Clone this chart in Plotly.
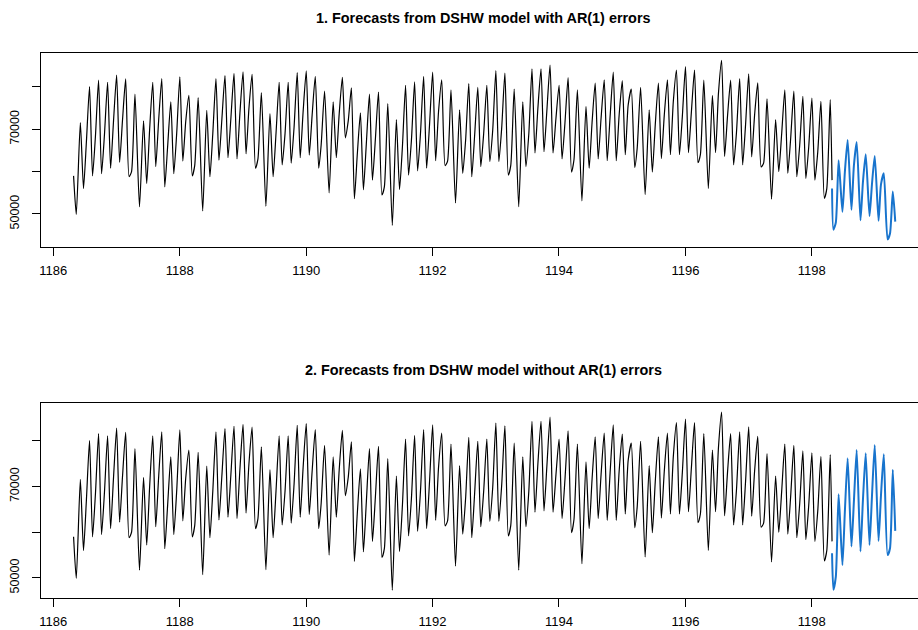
import plotly.graph_objects as go

# ---------------- data ----------------
series_start = 1186.32          # time (weeks) of first observation
days_in_week = 7
history_days = 84

history_start_value = 59000
history_end_value = 58000

# day 0 is a Sunday
day_names = ["Sun", "Mon", "Tue", "Wed", "Thu", "Fri", "Sat"]

# daily night trough, mid-morning notch (None = none visible), daily peak
daily_trough = [
    49900, 56000, 59000, 59500, 60800, 62200, 58800,
    51700, 57200, 61200, 56400, 59500, 62500, 59000,
    50700, 58800, 62700, 63300, 63000, 64200, 60800,
    51800, 58800, 61600, 62000, 63300, 63900, 60800,
    55000, 63300, 68000, 53600, 55700, 58000, 54500,
    47300, 55800, 59200, 60200, 60800, 62600, 61400,
    52600, 59600, 58800, 61200, 62400, 62400, 59200,
    51700, 61200, 64400, 64700, 64400, 63000, 59900,
    53100, 60800, 63000, 62600, 62600, 64000, 61000,
    54600, 59900, 63100, 64000, 64000, 64500, 62100,
    56000, 64500, 63600, 61600, 61600, 63500, 61100,
    53500, 60000, 59600, 58800, 58400, 58000, 53700,
]
daily_mid = [
    None, 67000, 68300, 68700, 71800, 72200, 60000,
    None, 69800, 72000, 66000, 69000, 71800, 61500,
    None, 69000, 72200, 72500, 73700, 74900, 63000,
    None, 69000, 69000, 70500, 74100, 73300, 66300,
    None, 73700, 72000, 64000, 66500, 67500, 56400,
    None, 65900, 67500, 69000, 71000, 74200, 62500,
    None, 67500, 68600, 69000, 69800, 70500, 61500,
    None, 69000, 74900, 74500, 72500, 71500, 62800,
    None, 71500, 72600, 73000, 73300, 75700, 65500,
    None, 71000, 73300, 76500, 73000, 74000, 64000,
    None, 78500, 73000, 69400, 71000, 73300, 62000,
    None, 68900, 67900, 66300, 65900, 64700, 56000,
]
daily_peak = [
    71600, 80100, 81600, 81100, 82800, 81900, 78300,
    72000, 81100, 82000, 76500, 82400, 78000, 77500,
    74500, 82000, 82700, 83200, 83600, 83000, 78700,
    73700, 81100, 81100, 83400, 83800, 82500, 79000,
    76500, 82300, 79800, 73900, 78300, 78800, 76100,
    72300, 80400, 81200, 82500, 83500, 81700, 79300,
    74600, 80800, 79900, 80400, 83900, 83300, 79500,
    76500, 84300, 84300, 85200, 80400, 82200, 79300,
    75400, 80900, 81700, 83500, 81500, 79500, 79900,
    74600, 80900, 81700, 84000, 84800, 84000, 81600,
    78000, 86300, 81600, 82000, 83100, 81000, 77200,
    72300, 79300, 79000, 77800, 77400, 76600, 77000,
]

# one-week forecasts (day 0 = Sunday)
fc1_start_value = 56000
fc1_trough = [46300, 50500, 51000, 48500, 49500, 48400, 44000]
fc1_mid = [48000, 59900, 61400, 57500, 57000, 57000, 45400]
fc1_peak = [62700, 67500, 67000, 64100, 63700, 59600, 55300]
fc1_end_value = 48200

fc2_start_value = 55400
fc2_trough = [47400, 52800, 56900, 55800, 57200, 58100, 55000]
fc2_mid = [50300, 64500, 66700, 67000, 67800, 68100, 56500]
fc2_peak = [68300, 76200, 78000, 77300, 79100, 77100, 73700]
fc2_end_value = 60300

x_tick_values = [1186, 1188, 1190, 1192, 1194, 1196, 1198]
y_tick_values = [50000, 60000, 70000, 80000]
y_tick_text = ["50000", "", "70000", ""]

titles = ["1. Forecasts from DSHW model with AR(1) errors",
          "2. Forecasts from DSHW model without AR(1) errors"]

# time-of-day positions (fraction of a day) of the three daily readings
hour_fraction = {
    "Sun": (0.30, 0.52, 0.75),
    "Sat": (0.15, 0.42, 0.80),
    "weekday": (0.10, 0.42, 0.77),
    "forecast": (0.15, 0.42, 0.73),
}


def t_of(day, frac):
    return series_start + (day + frac) / days_in_week


# ---------------- build series ----------------
hx, hy = [t_of(0, 0.0)], [history_start_value]
for d in range(history_days):
    name = day_names[d % 7]
    fr = hour_fraction[name] if name in ("Sun", "Sat") else hour_fraction["weekday"]
    for f, v in zip(fr, (daily_trough[d], daily_mid[d], daily_peak[d])):
        if v is not None:
            hx.append(t_of(d, f))
            hy.append(v)
hx.append(t_of(history_days, 0.0))
hy.append(history_end_value)


def forecast_series(start_v, tr, mi, pk, end_v):
    fx, fy = [t_of(history_days, 0.0)], [start_v]
    for i in range(len(tr)):
        fr = hour_fraction["forecast"]
        for f, v in zip(fr, (tr[i], mi[i], pk[i])):
            fx.append(t_of(history_days + i, f))
            fy.append(v)
    fx.append(t_of(history_days + len(tr), 0.0))
    fy.append(end_v)
    return fx, fy


f1x, f1y = forecast_series(fc1_start_value, fc1_trough, fc1_mid, fc1_peak, fc1_end_value)
f2x, f2y = forecast_series(fc2_start_value, fc2_trough, fc2_mid, fc2_peak, fc2_end_value)

# ---------------- figure ----------------
W, H = 918, 630
FONT = "Liberation Sans, Arial, Helvetica, sans-serif"
BLUE = "#1874CD"

fig = go.Figure()
line_shape = dict(shape="spline", smoothing=0.6)
fig.add_trace(go.Scatter(x=hx, y=hy, mode="lines", xaxis="x", yaxis="y",
                         line=dict(color="black", width=1.2, **line_shape)))
fig.add_trace(go.Scatter(x=f1x, y=f1y, mode="lines", xaxis="x", yaxis="y",
                         line=dict(color=BLUE, width=2, **line_shape)))
fig.add_trace(go.Scatter(x=hx, y=hy, mode="lines", xaxis="x2", yaxis="y2",
                         line=dict(color="black", width=1.2, **line_shape)))
fig.add_trace(go.Scatter(x=f2x, y=f2y, mode="lines", xaxis="x2", yaxis="y2",
                         line=dict(color=BLUE, width=2, **line_shape)))

left = 40.7 / W
xcommon = dict(range=[1185.80, 1199.68], tickvals=x_tick_values,
               ticks="outside", ticklen=8, tickwidth=1, tickcolor="black",
               showline=True, linecolor="black", linewidth=1, mirror=True,
               showgrid=False, zeroline=False, automargin=False,
               tickfont=dict(family=FONT, size=13, color="black"),
               ticklabelstandoff=3, domain=[left, 1.0])
ycommon = dict(tickvals=y_tick_values, ticktext=y_tick_text, tickangle=-90,
               ticks="outside", ticklen=8, tickwidth=1, tickcolor="black",
               showline=True, linecolor="black", linewidth=1, mirror=False,
               showgrid=False, zeroline=False, automargin=False,
               tickfont=dict(family=FONT, size=12.5, color="black"),
               ticklabelstandoff=8)

fig.update_layout(
    width=W, height=H, showlegend=False,
    paper_bgcolor="white", plot_bgcolor="white",
    margin=dict(l=0, r=0, t=0, b=0),
    xaxis=dict(anchor="y", **xcommon),
    xaxis2=dict(anchor="y2", **xcommon),
    yaxis=dict(anchor="x", range=[42200, 88100],
               domain=[(H - 247) / H, (H - 52.7) / H], **ycommon),
    yaxis2=dict(anchor="x2", range=[45600, 88300],
                domain=[(H - 598) / H, (H - 403) / H], **ycommon),
    annotations=[
        dict(text="<b>" + titles[0] + "</b>", x=483.5 / W, y=(H - 18) / H,
             xref="paper", yref="paper", showarrow=False, xanchor="center",
             yanchor="middle", font=dict(family=FONT, size=14.4, color="black")),
        dict(text="<b>" + titles[1] + "</b>", x=483.5 / W, y=(H - 370) / H,
             xref="paper", yref="paper", showarrow=False, xanchor="center",
             yanchor="middle", font=dict(family=FONT, size=14.4, color="black")),
    ],
)

fig.write_html("out.html",
               config={"displayModeBar": False},
               post_script="document.body.style.margin='0px';"
                           "document.body.style.overflow='hidden';")
